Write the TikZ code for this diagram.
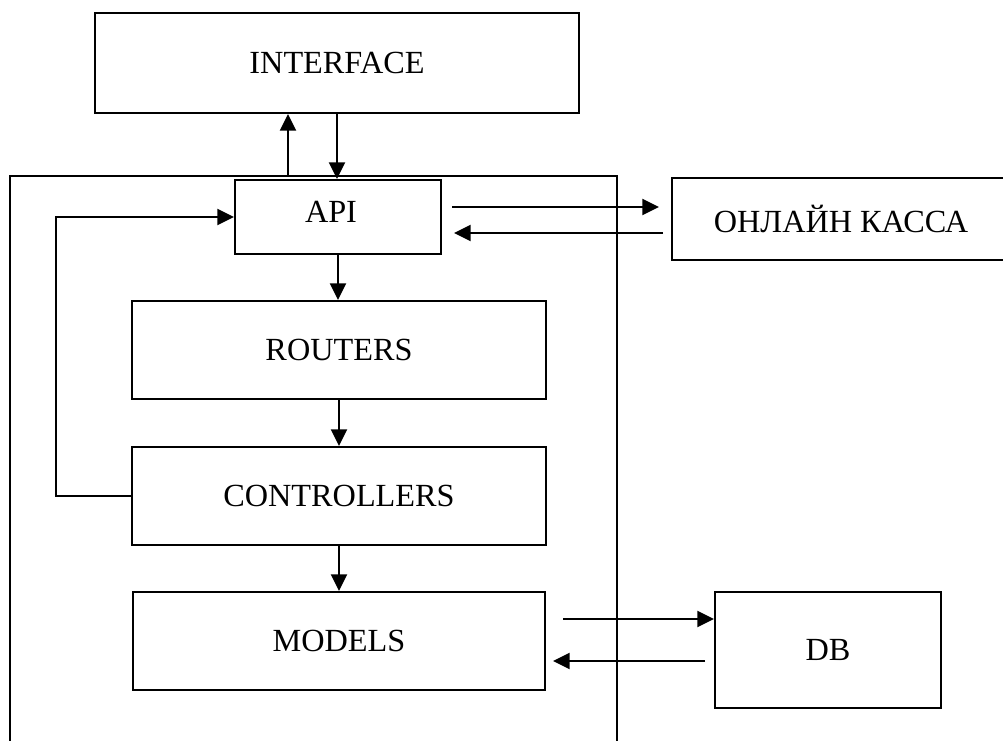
\documentclass[tikz,border=0pt]{standalone}
\usepackage{fontspec}
\setmainfont{Liberation Serif}
\usetikzlibrary{arrows.meta,calc}
\begin{document}
\begin{tikzpicture}[x=0.75pt,y=-0.75pt,
  ln/.style={line width=1.5pt},
  box/.style={ln,draw,inner sep=0pt,font=\fontsize{24.2pt}{29pt}\selectfont},
  lbl/.style={inner sep=0pt,font=\fontsize{24.2pt}{29pt}\selectfont},
  arr/.style={ln,-{Triangle[length=12.5pt,width=12pt]}}]
\clip (0,0) rectangle (1003,740);
\fill[white] (0,0) rectangle (1003,740);

% server boundary (open at the bottom)
\draw[ln] (10,760) -- (10,176) -- (617,176) -- (617,760);

% blocks
\node[box,minimum width=484*0.75pt,minimum height=100*0.75pt] (iface) at (337,63) {INTERFACE};
\node[box,minimum width=206*0.75pt,minimum height=74*0.75pt] (api) at (338,217) {};
\node[lbl] (apitxt) at (331,212) {API};
\node[box,minimum width=338*0.75pt,minimum height=82*0.75pt] (kassa) at (841,219) {ОНЛАЙН КАССА};
\node[box,minimum width=414*0.75pt,minimum height=98*0.75pt] (routers) at (339,350) {ROUTERS};
\node[box,minimum width=414*0.75pt,minimum height=98*0.75pt] (ctrl) at (339,496) {CONTROLLERS};
\node[box,minimum width=412*0.75pt,minimum height=98*0.75pt] (models) at (339,641) {MODELS};
\node[box,minimum width=226*0.75pt,minimum height=116*0.75pt] (db) at (828,650) {DB};

% interface <-> api
\coordinate (upfoot) at (288,176);
\draw[arr] (upfoot) -- (upfoot |- iface.south);
\draw[arr] (iface.south) -- (iface.south |- api.north);

% api <-> online cash register
\coordinate (ka) at (452,207);
\coordinate (kb) at (659,207);
\coordinate (kc) at (663,233);
\coordinate (kd) at (454,233);
\draw[arr] (ka) -- (kb);
\draw[arr] (kc) -- (kd);

% internal chain
\draw[arr] (api.south) -- (api.south |- routers.north);
\draw[arr] (routers.south) -- (ctrl.north);
\draw[arr] (ctrl.south) -- (models.north);
\draw[arr] (ctrl.west) -- ++(-75,0) |- (api.west);

% models <-> db
\coordinate (ma) at (563,619);
\coordinate (mb) at (705,661);
\coordinate (mc) at (553,661);
\draw[arr] (ma) -- (ma -| db.west);
\draw[arr] (mb) -- (mc);
\end{tikzpicture}
\end{document}
